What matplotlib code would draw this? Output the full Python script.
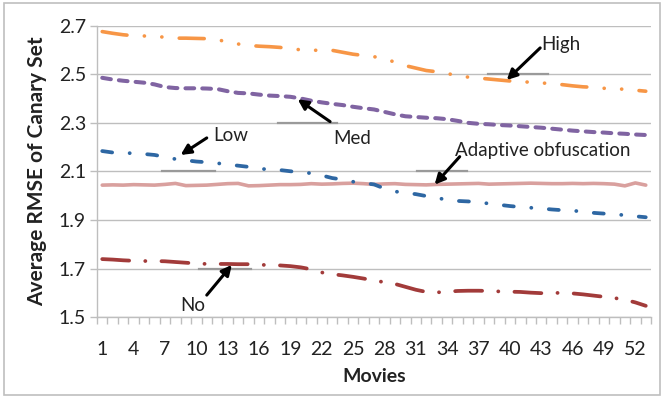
import numpy as np
import matplotlib
matplotlib.use("Agg")
import matplotlib.pyplot as plt
from matplotlib.patches import Rectangle

plt.rcParams['font.family'] = ['Lato', 'DejaVu Sans']
plt.rcParams['lines.scale_dashes'] = False

#data
movies = np.arange(1, 54)
high = [2.675, 2.668, 2.662, 2.658, 2.657, 2.655, 2.652, 2.648, 2.648, 2.647,
        2.646, 2.642, 2.632, 2.624, 2.618, 2.615, 2.613, 2.610, 2.605, 2.600,
        2.597, 2.600, 2.598, 2.590, 2.582, 2.577, 2.572, 2.562, 2.550, 2.535,
        2.525, 2.515, 2.510, 2.503, 2.493, 2.488, 2.484, 2.480, 2.476, 2.472,
        2.469, 2.467, 2.464, 2.461, 2.457, 2.452, 2.448, 2.446, 2.442, 2.440,
        2.438, 2.434, 2.430]
med = [2.485, 2.478, 2.473, 2.469, 2.465, 2.458, 2.447, 2.443, 2.442, 2.442,
       2.441, 2.439, 2.430, 2.423, 2.421, 2.416, 2.412, 2.410, 2.407, 2.400,
       2.391, 2.384, 2.378, 2.373, 2.366, 2.360, 2.355, 2.345, 2.335, 2.327,
       2.324, 2.321, 2.319, 2.315, 2.308, 2.300, 2.296, 2.294, 2.291, 2.289,
       2.286, 2.283, 2.280, 2.276, 2.272, 2.268, 2.265, 2.262, 2.260, 2.257,
       2.255, 2.252, 2.250]
low = [2.184, 2.178, 2.176, 2.175, 2.172, 2.168, 2.160, 2.151, 2.146, 2.141,
       2.138, 2.134, 2.129, 2.124, 2.119, 2.111, 2.109, 2.106, 2.101, 2.096,
       2.093, 2.084, 2.073, 2.067, 2.058, 2.052, 2.047, 2.030, 2.018, 2.012,
       2.007, 1.999, 1.992, 1.983, 1.979, 1.977, 1.974, 1.968, 1.963, 1.958,
       1.954, 1.951, 1.948, 1.944, 1.941, 1.939, 1.935, 1.930, 1.927, 1.925,
       1.920, 1.916, 1.912]
adaptive = [2.044, 2.045, 2.044, 2.046, 2.045, 2.044, 2.047, 2.051, 2.042, 2.043,
            2.044, 2.047, 2.050, 2.051, 2.041, 2.042, 2.044, 2.046, 2.046, 2.047,
            2.050, 2.048, 2.049, 2.051, 2.052, 2.050, 2.047, 2.049, 2.050, 2.047,
            2.046, 2.045, 2.047, 2.048, 2.049, 2.050, 2.051, 2.048, 2.049, 2.050,
            2.051, 2.052, 2.051, 2.050, 2.050, 2.051, 2.050, 2.051, 2.050, 2.048,
            2.041, 2.053, 2.044]
no = [1.740, 1.738, 1.735, 1.733, 1.732, 1.732, 1.731, 1.728, 1.725, 1.722,
      1.720, 1.720, 1.720, 1.719, 1.719, 1.717, 1.715, 1.714, 1.711, 1.706,
      1.698, 1.685, 1.678, 1.673, 1.667, 1.660, 1.652, 1.645, 1.638, 1.626,
      1.614, 1.605, 1.603, 1.606, 1.609, 1.610, 1.610, 1.609, 1.607, 1.606,
      1.605, 1.602, 1.600, 1.601, 1.601, 1.599, 1.595, 1.590, 1.585, 1.580,
      1.573, 1.562, 1.548]
yticks = [1.5, 1.7, 1.9, 2.1, 2.3, 2.5, 2.7]
xtick_labels = movies[::3]

#figure
fig = plt.figure(figsize=(6.64, 3.98), dpi=100)
fig.patches.append(Rectangle((0.006, 0.008), 0.988, 0.985, transform=fig.transFigure,
                             fill=False, edgecolor="#BFBFBF", lw=1.2))
ax = fig.add_axes([0.1461, 0.2023, 0.8343, 0.7336])

ax.plot(movies, adaptive, color="#D9A09E", lw=2.6, solid_capstyle="round", zorder=3)
ax.plot(movies, high, color="#F79646", lw=2.6, dash_capstyle="round",
        dashes=(18, 12.5, 0.1, 12.5, 0.1, 12.5), zorder=3)
ax.plot(movies, med, color="#8064A2", lw=2.9, dash_capstyle="round",
        dashes=(6.3, 5.8), zorder=3)
ax.plot(movies, low, color="#2E67A3", lw=2.7, dash_capstyle="round",
        dashes=(7.2, 12.6, 0.1, 12.6), zorder=3)
ax.plot(movies, no, color="#A23B3A", lw=2.7, dash_capstyle="round",
        dashes=(19.4, 11.6, 0.1, 11.6), zorder=3)

#axes style
ax.set_xlim(0.5, 53.5)
ax.set_ylim(1.5, 2.7)
ax.set_yticks(yticks)
ax.set_yticklabels([f"{v:.1f}" for v in yticks])
ax.set_xticks(xtick_labels)
ax.set_xticklabels([str(v) for v in xtick_labels])
ax.set_xticks(np.arange(0.5, 54, 1), minor=True)
ax.grid(axis="y", color="#BEBEBE", lw=1.0, zorder=0)
for s in ["top", "right"]:
    ax.spines[s].set_visible(False)
for s in ["left", "bottom"]:
    ax.spines[s].set_color("#BEBEBE")
    ax.spines[s].set_linewidth(1.0)
ax.tick_params(axis="y", length=5, color="#BEBEBE", width=1.0, labelsize=14,
               labelcolor="#222222", pad=3)
ax.tick_params(axis="x", which="major", length=0, labelsize=14, labelcolor="#222222", pad=17)
ax.tick_params(axis="x", which="minor", length=5, color="#BEBEBE", width=1.0)
ax.set_ylabel("Average RMSE of Canary Set", fontsize=15, fontweight="bold", color="#222222", labelpad=8)
ax.set_xlabel("Movies", fontsize=14, fontweight="bold", color="#222222", labelpad=7)

#box edges left over from the labels
for y0, x0, x1 in [(2.1, 6.7, 11.8), (2.3, 17.8, 23.5), (2.5, 37.9, 43.6),
                   (2.1, 31.1, 35.9), (1.7, 10.3, 15.2)]:
    ax.plot([x0, x1], [y0, y0], color="#9A9A9A", lw=1.6, zorder=2)

#labels with arrows
arrow = dict(arrowstyle="-|>", color="black", lw=2.2, mutation_scale=15, shrinkA=0, shrinkB=0)
notes = [("Low", (8.5, 2.168), (11.0, 2.238), (13.3, 2.25)),
         ("Med", (19.7, 2.397), (22.8, 2.305), (24.9, 2.236)),
         ("High", (39.7, 2.476), (42.9, 2.608), (44.9, 2.62)),
         ("Adaptive obfuscation", (32.8, 2.046), (35.2, 2.161), (43.1, 2.186)),
         ("No", (13.4, 1.716), (11.0, 1.592), (9.7, 1.551))]
for txt, head, tail, pos in notes:
    ax.annotate("", xy=head, xytext=tail, arrowprops=arrow, zorder=5)
    ax.text(pos[0], pos[1], txt, ha="center", va="center", fontsize=13.5, color="#222222", zorder=5)

plt.savefig("out.png", dpi=100)
